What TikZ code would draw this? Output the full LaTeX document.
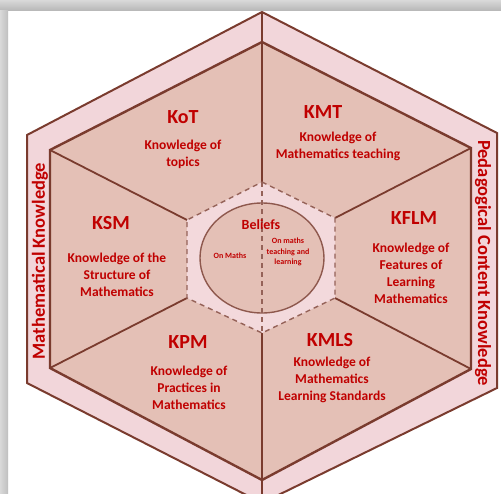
\documentclass[tikz,border=0pt]{standalone}
\usepackage{fontspec}
\setmainfont{Carlito}
\usetikzlibrary{shapes.geometric}
\definecolor{mkred}{RGB}{192,0,0}
\definecolor{mkline}{RGB}{122,59,46}
\definecolor{mkband}{RGB}{242,214,218}
\definecolor{mksector}{RGB}{228,192,182}
\definecolor{mkcore}{RGB}{243,217,220}
\tikzset{
  head/.style={font=\bfseries\fontsize{20}{24}\selectfont, text=mkred, inner sep=0pt},
  body/.style={font=\bfseries\fontsize{13.5}{17}\selectfont, text=mkred, align=center, inner sep=0pt},
  small/.style={font=\bfseries\fontsize{8}{10.5}\selectfont, text=mkred, align=center, inner sep=0pt},
  side/.style={font=\bfseries\fontsize{18.5}{22}\selectfont, text=mkred, inner sep=0pt},
  spoke/.style={draw=mkline, line width=1.8pt},
  rim/.style={draw=mkline, line width=2pt, line join=miter}
}
\begin{document}
\begin{tikzpicture}[x=1pt,y=-1pt]
  \useasboundingbox (0,0) rectangle (501,493);
  \clip (0,0) rectangle (501,493);
  \fill[white] (0,0) rectangle (501,493);
  \shade[top color=gray!30, bottom color=gray!55] (0,0) rectangle (501,10);
  \shade[left color=gray!30, right color=gray!50] (0,10) rectangle (8,493);

  % hexagon corners
  \coordinate (o1) at (262,12);
  \coordinate (o2) at (497,133);
  \coordinate (o3) at (497,388);
  \coordinate (o4) at (262,503);
  \coordinate (o5) at (27,383);
  \coordinate (o6) at (27,135);
  \coordinate (i1) at (262,42);
  \coordinate (i2) at (471,148);
  \coordinate (i3) at (471,369);
  \coordinate (i4) at (262,480);
  \coordinate (i5) at (50,368);
  \coordinate (i6) at (50,150);
  \coordinate (c1) at (262,182);
  \coordinate (c2) at (335,218);
  \coordinate (c3) at (335,298);
  \coordinate (c4) at (262,333);
  \coordinate (c5) at (187,298);
  \coordinate (c6) at (187,220);

  \filldraw[rim, fill=mkband] (o1) -- (o2) -- (o3) -- (o4) -- (o5) -- (o6) -- cycle;
  \filldraw[rim, fill=mksector, line width=2.4pt] (i1) -- (i2) -- (i3) -- (i4) -- (i5) -- (i6) -- cycle;

  \foreach \from/\to in {c1/o1,c2/i2,c3/i3,c4/o4,c5/i5,c6/i6}
    \draw[spoke] (\from) -- (\to);

  \filldraw[fill=mkcore, draw=mkline!80, line width=1.4pt, dash pattern=on 5pt off 4pt]
    (c1) -- (c2) -- (c3) -- (c4) -- (c5) -- (c6) -- cycle;
  \node[draw=mkline!85, line width=1.4pt, fill=mksector, ellipse, minimum width=124pt, minimum height=110pt, inner sep=0pt] (circ) at (262,258) {};
  \draw[draw=mkline!80, line width=1.4pt, dash pattern=on 5pt off 4pt] (c1) -- (c4);

  % centre
  \node[font=\bfseries\fontsize{14}{16}\selectfont, text=mkred, inner sep=0pt] (bel) at (261,225) {Beliefs};
  \node[small] (onm) at (230,256) {On Maths};
  \node[small] (ont) at (288,252) {On maths\\teaching and\\learning};

  % sectors
  \node[head] (kot) at (183,117) {KoT};
  \node[body] (kotb) at (183,154) {Knowledge of\\topics};
  \node[head] (kmt) at (323,112) {KMT};
  \node[body] (kmtb) at (338,146) {Knowledge of\\Mathematics teaching};
  \node[head] (kflm) at (414,218) {KFLM};
  \node[body] (kflmb) at (411,273) {Knowledge of\\Features of\\Learning\\Mathematics};
  \node[head] (ksm) at (111,223) {KSM};
  \node[body] (ksmb) at (117,275) {Knowledge of the\\Structure of\\Mathematics};
  \node[head] (kpm) at (188,342) {KPM};
  \node[body] (kpmb) at (189,388) {Knowledge of\\Practices in\\Mathematics};
  \node[head] (kmls) at (330,340) {KMLS};
  \node[body] (kmlsb) at (332,380) {Knowledge of\\Mathematics\\Learning Standards};

  % side labels
  \node[side, rotate=90] (mk) at (40,261) {Mathematical Knowledge};
  \node[side, rotate=-90] (pck) at (483,263) {Pedagogical Content Knowledge};
\end{tikzpicture}
\end{document}
